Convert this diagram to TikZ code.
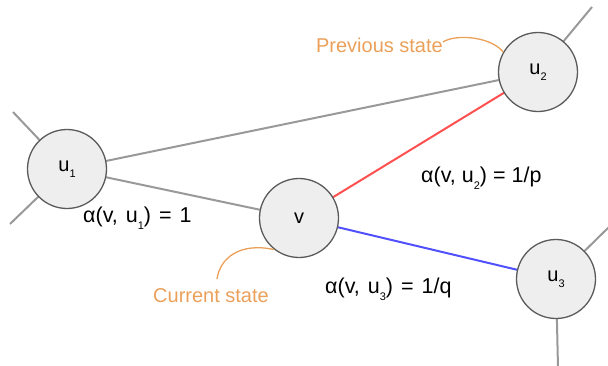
\documentclass[tikz,border=0pt]{standalone}
\usepackage{fontspec}
\setmainfont{Liberation Sans}
\definecolor{nodefill}{HTML}{EEEEEE}
\definecolor{nodeline}{HTML}{5A5A5A}
\definecolor{edgegray}{HTML}{999999}
\definecolor{orng}{HTML}{EBA05A}
\definecolor{redE}{HTML}{FF5050}
\definecolor{blueE}{HTML}{5050FF}
\newcommand{\sbs}[1]{\raisebox{-0.6ex}{\fontsize{11}{11}\selectfont #1}}
\newcommand{\wsp}{\hspace{8pt}}
\begin{document}
\begin{tikzpicture}[x=1pt,y=-1pt,
  state/.style={circle,draw=nodeline,fill=nodefill,line width=1.3pt,minimum size=79pt,inner sep=0pt,font=\fontsize{20}{20}\selectfont},
  edge/.style={draw=edgegray,line width=2pt},
  lbl/.style={font=\fontsize{21.5}{21.5}\selectfont,inner sep=0pt},
  note/.style={font=\fontsize{20}{20}\selectfont,text=orng,inner sep=0pt},
  notecurve/.style={draw=orng,line width=1.3pt}]
\useasboundingbox (0,0) rectangle (608,365);
% stub endpoints
\coordinate (s1) at (13,112);
\coordinate (s2) at (10,224);
\coordinate (s3) at (592,7);
\coordinate (s4) at (610,226);
\coordinate (s5) at (558,368);
% nodes positions
\coordinate (pu1) at (67,169);
\coordinate (pv) at (299,218);
\coordinate (pu2) at (538,72);
\coordinate (pu3) at (556,279);
% edges (behind)
\draw[edge] (pu1) -- (s1);
\draw[edge] (pu1) -- (s2);
\draw[edge] (pu2) -- (s3);
\draw[edge] (pu3) -- (s4);
\draw[edge] (pu3) -- (s5);
\draw[edge] (pu1) -- (pu2);
\draw[edge] (pu1) -- (pv);
\draw[draw=redE,line width=2pt] (pv) -- (pu2);
\draw[draw=blueE,line width=2pt] (pv) -- (pu3);
\node[state] (u1) at (pu1) {u\sbs{1}};
\node[state] (v) at (pv) {v};
\node[state] (u2) at (pu2) {u\sbs{2}};
\node[state] (u3) at (pu3) {u\sbs{3}};
% labels
\node[lbl,anchor=west] (l1) at (83,218) {α(v,\wsp u\sbs{1})\wsp=\wsp 1};
\node[lbl,anchor=west] (l2) at (421,178) {α(v, u\sbs{2}) = 1/p};
\node[lbl,anchor=west] (l3) at (325,289) {α(v,\wsp u\sbs{3})\wsp=\wsp 1/q};
% notes
\node[note,anchor=east] (prev) at (443,45) {Previous state};
\node[note] (cur) at (211,296) {Current state};
\draw[notecurve] (prev.east) ++(0,-3) .. controls (455,34) and (490,36) .. (u2.150);
\draw[notecurve] (v.-128) .. controls (240,242) and (220,258) .. (217,279);
\end{tikzpicture}
\end{document}
